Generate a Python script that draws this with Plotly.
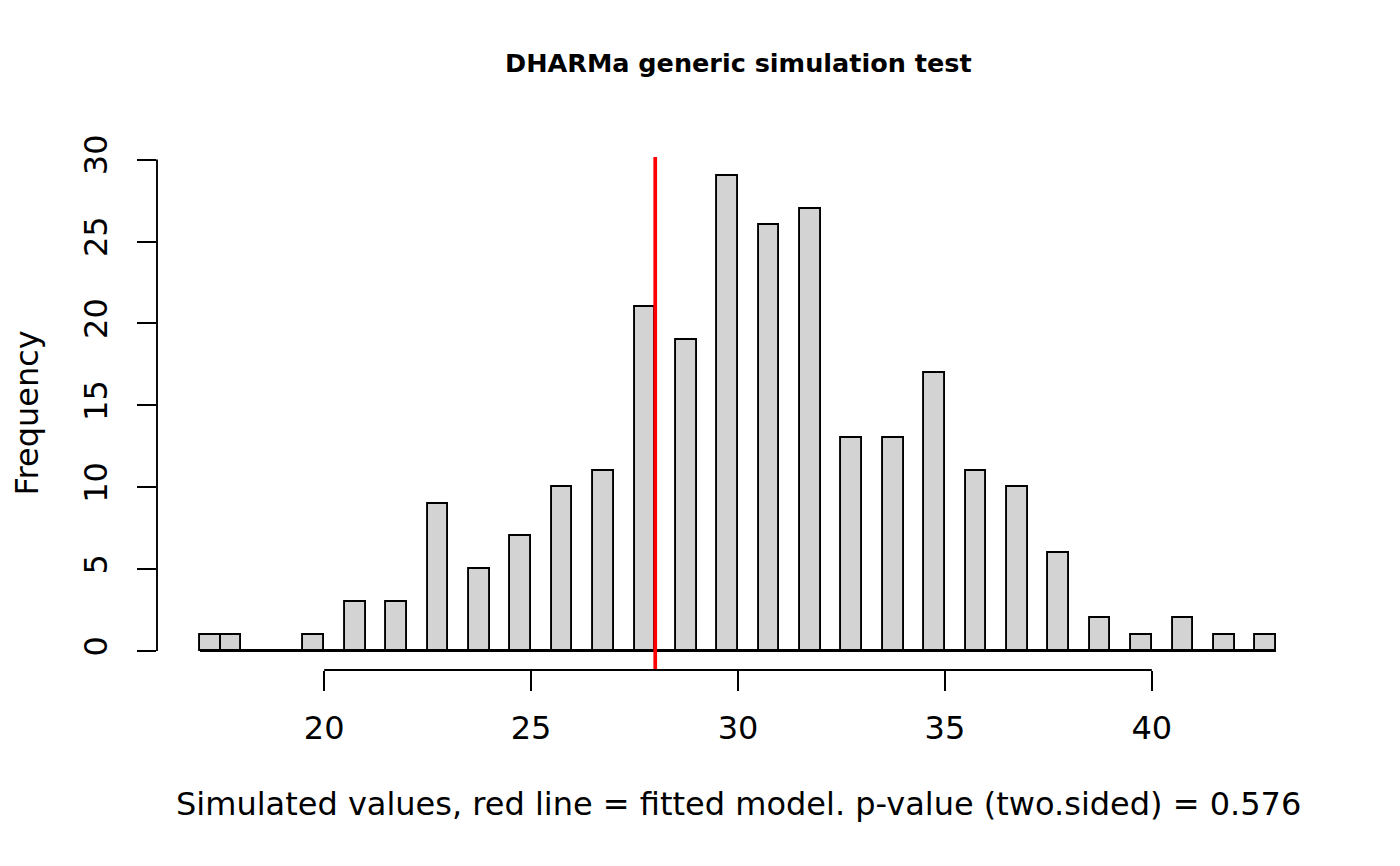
import numpy as np
import plotly.graph_objects as go

# ---- data ----
sim_values = [17, 18, 20, 21, 22, 23, 24, 25, 26, 27, 28, 29, 30, 31, 32,
              33, 34, 35, 36, 37, 38, 39, 40, 41, 42, 43]
sim_counts = [1, 1, 1, 3, 3, 9, 5, 7, 10, 11, 21, 19, 29, 26, 27,
              13, 13, 17, 11, 10, 6, 2, 1, 2, 1, 1]
observed = 28
bin_width = 0.5
x_ticks = [20, 25, 30, 35, 40]
y_ticks = [0, 5, 10, 15, 20, 25, 30]
title_text = "DHARMa generic simulation test"
x_label = "Simulated values, red line = fitted model. p-value (two.sided) = 0.576"
y_label = "Frequency"

# ---- histogram like R's hist(): right-closed bins, first bin closed ----
breaks = np.arange(min(sim_values), max(sim_values) + bin_width / 2, bin_width)
counts = np.zeros(len(breaks) - 1)
for v, c in zip(sim_values, sim_counts):
    idx = max(int(np.searchsorted(breaks, v, side="left")) - 1, 0)
    counts[idx] += c
mids = (breaks[:-1] + breaks[1:]) / 2

xlo, xhi = breaks[0], breaks[-1]
xpad = 0.04 * (xhi - xlo)
ylo, yhi = 0, counts.max()
ypad = 0.04 * (yhi - ylo)
x_range = [xlo - xpad, xhi + xpad]
y_range = [ylo - ypad, yhi + ypad]

FONT = "DejaVu Sans"
AX = 32      # axis text size
TS = 25.5    # title size

fig = go.Figure()
fig.add_trace(go.Bar(
    x=mids, y=counts, width=bin_width,
    marker=dict(color="#D3D3D3", line=dict(color="black", width=1.9)),
    hoverinfo="x+y", showlegend=False,
))
# baseline across all bins (zero-height bins drawn as flat line, as in R)
fig.add_trace(go.Scatter(
    x=[breaks[0], breaks[-1]], y=[0, 0], mode="lines",
    line=dict(color="black", width=1.9), hoverinfo="skip", showlegend=False,
))

shapes = [
    # red observed line spanning plot region
    dict(type="line", xref="x", yref="paper", x0=observed, x1=observed,
         y0=0, y1=1, line=dict(color="#FF0000", width=3.7)),
    # R-style axis lines only between extreme ticks
    dict(type="line", xref="x", yref="paper", x0=x_ticks[0], x1=x_ticks[-1],
         y0=0, y1=0, line=dict(color="black", width=1.9)),
    dict(type="line", xref="paper", yref="y", x0=0, x1=0,
         y0=y_ticks[0], y1=y_ticks[-1], line=dict(color="black", width=1.9)),
]

fig.update_layout(
    width=1392, height=858,
    margin=dict(l=149, r=81, t=149, b=196, autoexpand=False),
    paper_bgcolor="white", plot_bgcolor="white",
    font=dict(family=FONT, color="black", size=AX),
    shapes=shapes,
    bargap=0,
    xaxis=dict(range=x_range, tickvals=x_ticks, ticks="outside", ticklen=20,
               tickwidth=1.9, tickcolor="black", showgrid=False, zeroline=False,
               showline=False, tickfont=dict(size=AX, family=FONT),
               ticklabelstandoff=10, automargin=False),
    yaxis=dict(range=y_range, tickvals=y_ticks, ticks="outside", ticklen=19,
               tickwidth=1.9, tickcolor="black", showgrid=False, zeroline=False,
               showline=False, tickangle=-90, tickfont=dict(size=AX, family=FONT),
               ticklabelstandoff=17, automargin=False),
    annotations=[
        dict(text=title_text, xref="paper", yref="paper", x=0.5, y=1,
             yshift=(157 - 63), xanchor="center", yanchor="middle",
             showarrow=False, font=dict(size=TS, family=FONT, weight="bold")),
        dict(text=x_label, xref="paper", yref="paper", x=0.5, y=0,
             yshift=-(804 - 670), xanchor="center", yanchor="middle",
             showarrow=False, font=dict(size=AX, family=FONT)),
        dict(text=y_label, xref="paper", yref="paper", x=0, y=0.5,
             xshift=-(157 - 26), xanchor="center", yanchor="middle",
             textangle=-90, showarrow=False, font=dict(size=AX, family=FONT)),
    ],
)

fig.write_html("out.html")
